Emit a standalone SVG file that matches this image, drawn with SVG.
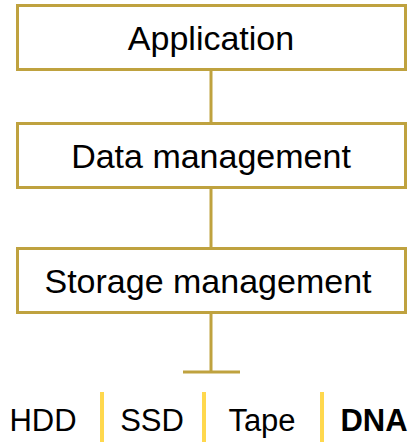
<svg xmlns="http://www.w3.org/2000/svg" width="410" height="442" viewBox="0 0 410 442">
<style>
.box{fill:#fff;stroke:#BFA23F;stroke-width:3}
.con{stroke:#BFA23F;stroke-width:3;fill:none}
.sep{stroke:#FFD84D;stroke-width:4}
text{font-family:"Liberation Sans",Arial,sans-serif;font-size:34px;fill:#000;text-anchor:middle}
.lbl{font-size:31px}
</style>
<rect width="410" height="442" fill="#fff"/>
<g id="connectors">
<line class="con" x1="211" y1="70" x2="211" y2="123"/>
<line class="con" x1="211" y1="189" x2="211" y2="248"/>
<line class="con" x1="211" y1="313" x2="211" y2="372"/>
<line class="con" x1="183" y1="372" x2="240" y2="372" stroke-width="4"/>
</g>
<g id="application">
<rect class="box" x="17.5" y="5.5" width="388" height="64"/>
<text x="211" y="50">Application</text>
</g>
<g id="data-management">
<rect class="box" x="17.5" y="123.5" width="388" height="64"/>
<text x="211" y="168">Data management</text>
</g>
<g id="storage-management">
<rect class="box" x="17.5" y="248.5" width="388" height="64"/>
<text x="208" y="293">Storage management</text>
</g>
<g id="media">
<line class="sep" x1="102" y1="392" x2="102" y2="442"/>
<line class="sep" x1="204" y1="392" x2="204" y2="442"/>
<line class="sep" x1="322" y1="392" x2="322" y2="442"/>
<text class="lbl" x="43" y="431">HDD</text>
<text class="lbl" x="152" y="431">SSD</text>
<text class="lbl" x="262" y="431">Tape</text>
<text class="lbl" x="374" y="431" font-weight="bold">DNA</text>
</g>
</svg>
